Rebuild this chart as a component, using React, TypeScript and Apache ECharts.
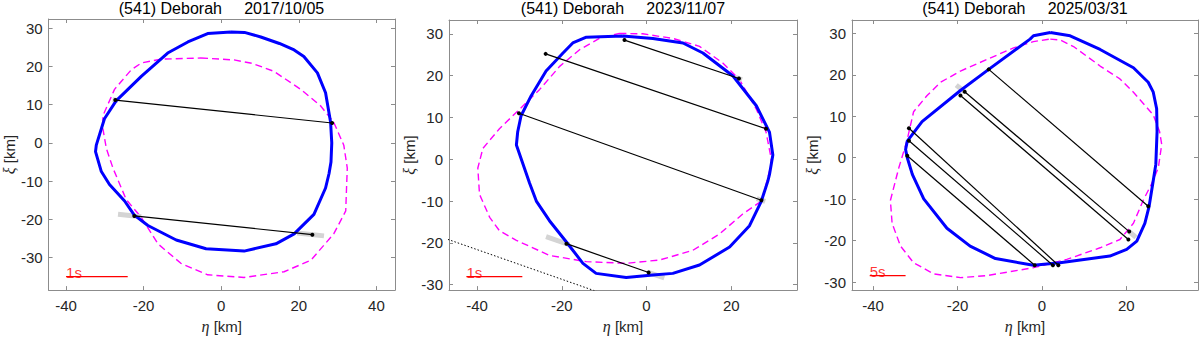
import React, { useEffect, useRef } from "react";
import * as echarts from "echarts";

// ---------- data ----------
const titles = ["(541) Deborah     2017/10/05", "(541) Deborah     2023/11/07", "(541) Deborah     2025/03/31"];
const xTicks = [[-40, -20, 0, 20, 40], [-40, -20, 0, 20], [-40, -20, 0, 20]];
const yTicks = [-30, -20, -10, 0, 10, 20, 30];
const xRanges = [[-44.5, 44.8], [-46.6, 35.5], [-45, 37]];
const yRanges = [[-38.5, 32.4], [-31.3, 33.3], [-31.9, 33.2]];

const blue1 = [[2.5,29.0],[6,28.9],[10.2,27.7],[15,26],[18.8,24.3],[21.3,22.6],[24.8,18.3],[26.9,13.1],[28.2,5.4],[28.5,0],[28.3,-5],[27.8,-8],[26.9,-11.8],[23.9,-18.7],[18.8,-23.8],[14.1,-26.4],[5.9,-28.3],[-3.9,-27.7],[-11.6,-25.4],[-18.9,-21.6],[-22.4,-18.9],[-24.9,-15.2],[-28.8,-10.9],[-30.9,-7.5],[-32.4,-2.3],[-32.2,-0.6],[-30.1,6.3],[-27.1,11.0],[-20.6,17.4],[-13.8,23.5],[-8.6,26.4],[-3.5,28.6],[2.5,29.0]];
const mag1 = [[-5.2,22.2],[3.3,21.7],[8,20.8],[13.6,18.7],[20.5,14.0],[25.6,9.7],[29.0,5.4],[31.6,-0.6],[32.5,-6.6],[32.3,-12],[32.1,-17.8],[29.0,-23.8],[23.1,-30.7],[16.2,-33.7],[5.9,-35.2],[-3.5,-34.5],[-10.4,-31.5],[-16.3,-26.4],[-20.6,-19.5],[-24.5,-14.8],[-27.9,-6.6],[-29.6,-1.5],[-30.5,3.7],[-30.5,7.1],[-27.5,14.0],[-23.2,19.1],[-20.6,20.9],[-15.5,21.9],[-5.2,22.2]];
const chords1 = [[-27.3,11.2,28.6,5.2],[-22.4,-19.1,23.5,-24.0]];
const gray1 = [[-28.0,11.3,-26.6,11.1],[-26.6,-18.65,-20.6,-19.3],[19.6,-23.58,26.5,-24.32]];
const bar1 = [-40, -24.1, -35];

const blue2 = [[-5.6,29.5],[1.5,28.9],[8.6,27.8],[13.3,25.4],[20.4,19.9],[25.9,12.8],[29.0,6.5],[29.8,1.0],[29.0,-3.7],[28.6,-5.3],[27.1,-10.0],[24.3,-15.9],[19.6,-21.0],[12.5,-25.3],[6.2,-27.3],[1.5,-27.7],[-4.8,-28.3],[-11.9,-27.3],[-15.0,-24.9],[-18.9,-19.8],[-22.9,-14.7],[-26,-10.0],[-27.6,-5.7],[-30.7,3.4],[-30.4,6.5],[-29.6,10.4],[-27.2,15.2],[-23.7,21.1],[-19.7,25.4],[-17.4,27.8],[-14.2,29.2],[-5.6,29.5]];
const mag2 = [[-6.4,30.1],[-0.9,30.0],[6.2,28.9],[12.5,27.0],[18.0,23.0],[21.9,19.1],[25.9,12.0],[28.2,6.5],[29.4,0.2],[29.4,-1.3],[27.8,-7.6],[27.1,-10.0],[22.7,-13.1],[17.2,-17.9],[10.9,-21.8],[3.1,-24.1],[-4.8,-24.9],[-14.2,-24.5],[-22.9,-23.0],[-30.7,-19.4],[-34.7,-17.1],[-37.0,-13.9],[-39.4,-8.4],[-39.8,-2.1],[-38.6,2.6],[-34.7,7.3],[-29.9,12.0],[-25.2,16.7],[-20.5,22.2],[-15.8,26.2],[-11.1,28.9],[-6.4,30.1]];
const chords2 = [[-5.2,28.5,21.8,19.3],[-23.8,25.2,28.2,7.3],[-30.1,11.0,27.1,-9.8],[-18.9,-20.2,0.5,-27.1]];
const gray2 = [[21.0,19.6,22.5,19.0],[26.0,-9.4,28.0,-10.1],[-23.7,-18.5,-18.2,-20.45],[0.2,-27.0,4.2,-28.4]];
const dotted2 = [[-50,-18.06],[-10,-32.26]];
const bar2 = [-42.5, -29.3, -28.1];

const blue3 = [[2.0,30.2],[6.7,29.4],[13.8,26.1],[21.7,21.7],[25.2,18.2],[26.4,15.8],[27.2,11.8],[27.3,6.3],[27.0,-1.6],[26.4,-5.5],[25.4,-11.8],[24.4,-15.8],[22.5,-20.1],[20.1,-22.1],[16.1,-23.7],[4.3,-25.3],[-2.0,-25.9],[-11.0,-24.3],[-17.0,-21.3],[-22.5,-17.0],[-28.0,-9.9],[-30.7,-4.0],[-31.9,0],[-32.3,2.0],[-31.9,4.0],[-28.4,8.7],[-19.3,16.2],[-12.6,21.3],[-2.8,28.6],[-2.0,29.4],[2.0,30.2]];
const mag3 = [[2.0,28.6],[4.3,28.4],[7.5,26.8],[13.8,22.1],[18.5,19.0],[21.7,15.8],[26.4,10.3],[27.9,6.3],[28.4,3.2],[27.6,-2.4],[26.0,-6.3],[24.0,-10.3],[21.7,-15.8],[18.5,-19.7],[13.8,-21.7],[5.9,-24.5],[-2.0,-26.5],[-13.0,-28.4],[-19.3,-28.9],[-25.6,-28.0],[-30.4,-25.3],[-33.5,-21.3],[-35.5,-15.8],[-35.9,-10.3],[-33.9,-2.4],[-32,4],[-30.4,11.1],[-27.2,15.0],[-24.0,18.2],[-19.3,20.9],[-13.0,23.7],[-6.7,26.5],[-2.0,28.0],[2.0,28.6]];
const chords3 = [[-12.6,21.3,25.2,-11.7],[-18.3,15.9,20.7,-17.8],[-19.3,15.0,20.5,-19.7],[-31.5,7.1,3.9,-25.9],[-31.5,4.1,2.6,-25.9],[-31.9,0.5,-1.7,-25.9]];
const gray3 = [[-20.3,17.5,-18.3,15.9],[20.5,-17.6,22.3,-19.2]];
const bar3 = [-40.8, -32.3, -28.4];

const scaleLabels = ["1s", "1s", "5s"];

// ---------- layout / style ----------
const grids = [
  { left: 48, top: 19, width: 347, height: 275 },
  { left: 449, top: 20, width: 348, height: 274 },
  { left: 852, top: 20, width: 346, height: 274 },
];
const FONT = "Liberation Sans";
const AXIS_COLOR = "#8c8c8c";
const TEXT_COLOR = "#262626";

const panels = [
  { blue: blue1, mag: mag1, chords: chords1, gray: gray1, bar: bar1, dotted: null as number[][] | null },
  { blue: blue2, mag: mag2, chords: chords2, gray: gray2, bar: bar2, dotted: dotted2 },
  { blue: blue3, mag: mag3, chords: chords3, gray: gray3, bar: bar3, dotted: null as number[][] | null },
];

function buildOption() {
  const xAxis: any[] = [];
  const yAxis: any[] = [];
  const series: any[] = [];
  const title: any[] = [];
  panels.forEach((p, i) => {
    const g = grids[i];
    title.push({
      text: titles[i],
      left: g.left + g.width / 2,
      top: 0,
      textAlign: "center",
      padding: 0,
      textStyle: { fontFamily: FONT, fontSize: 16, fontWeight: "normal", color: "#000" },
    });
    const common = (ticks: number[]) => ({
      type: "value",
      gridIndex: i,
      splitLine: { show: false },
      axisLine: { show: true, onZero: false, lineStyle: { color: AXIS_COLOR, width: 1 } },
      axisTick: { show: true, inside: true, length: 4, customValues: ticks, lineStyle: { color: AXIS_COLOR } },
    });
    xAxis.push({
      ...common(xTicks[i]),
      position: "bottom",
      min: xRanges[i][0],
      max: xRanges[i][1],
      axisLabel: { show: true, customValues: xTicks[i], fontFamily: FONT, fontSize: 15, color: TEXT_COLOR, margin: 8 },
      name: "{g|η} [km]",
      nameLocation: "middle",
      nameGap: 27,
      nameTextStyle: {
        fontFamily: FONT, fontSize: 15, color: TEXT_COLOR,
        rich: { g: { fontFamily: "Liberation Serif", fontStyle: "italic", fontSize: 16, color: TEXT_COLOR } },
      },
    });
    xAxis.push({
      ...common(xTicks[i]),
      position: "top",
      min: xRanges[i][0],
      max: xRanges[i][1],
      axisLabel: { show: false },
    });
    yAxis.push({
      ...common(yTicks),
      position: "left",
      min: yRanges[i][0],
      max: yRanges[i][1],
      axisLabel: { show: true, customValues: yTicks, fontFamily: FONT, fontSize: 15, color: TEXT_COLOR, margin: 6 },
      name: "{g|ξ} [km]",
      nameLocation: "middle",
      nameGap: 31,
      nameTextStyle: {
        fontFamily: FONT, fontSize: 15, color: TEXT_COLOR,
        rich: { g: { fontFamily: "Liberation Serif", fontStyle: "italic", fontSize: 16, color: TEXT_COLOR } },
      },
    });
    yAxis.push({
      ...common(yTicks),
      position: "right",
      min: yRanges[i][0],
      max: yRanges[i][1],
      axisLabel: { show: false },
    });
    const ax = { xAxisIndex: 2 * i, yAxisIndex: 2 * i };
    series.push({
      type: "line", ...ax, data: p.mag, symbol: "none", smooth: false, z: 2,
      lineStyle: { color: "#ff00ff", width: 1.4, type: [7, 4] },
    });
    p.gray.forEach((s) => {
      series.push({
        type: "line", ...ax, data: [[s[0], s[1]], [s[2], s[3]]], symbol: "none", z: 3,
        lineStyle: { color: "#d4d4d4", width: 5 },
      });
    });
    series.push({
      type: "line", ...ax, data: p.blue, symbol: "none", smooth: false, z: 4,
      lineStyle: { color: "#0000ff", width: 3 },
    });
    if (p.dotted) {
      series.push({
        type: "line", ...ax, data: p.dotted, symbol: "none", z: 4, clip: true,
        lineStyle: { color: "#000", width: 1, type: [1.5, 2] },
      });
    }
    p.chords.forEach((c) => {
      series.push({
        type: "line", ...ax, data: [[c[0], c[1]], [c[2], c[3]]], z: 5,
        symbol: "circle", symbolSize: 4, showSymbol: true,
        itemStyle: { color: "#000" },
        lineStyle: { color: "#000", width: 1.2 },
      });
    });
    const b = p.bar;
    series.push({
      type: "line", ...ax, data: [[b[0], b[2]], [b[1], b[2]]], symbol: "none", z: 6,
      lineStyle: { color: "#ff0000", width: 1.2 },
    });
    series.push({
      type: "scatter", ...ax, data: [[b[0], b[2]]], symbol: "circle", symbolSize: 0.1, z: 6,
      itemStyle: { color: "rgba(0,0,0,0)" },
      label: {
        show: true, formatter: scaleLabels[i], position: "top", distance: 0, align: "left",
        verticalAlign: "bottom", offset: [0, 3], lineHeight: 15,
        fontFamily: FONT, fontSize: 15, color: "#ff0000",
      },
    });
  });
  return {
    animation: false,
    backgroundColor: "#fff",
    title,
    grid: grids.map((g) => ({ ...g, containLabel: false })),
    xAxis,
    yAxis,
    series,
  };
}

export default function App() {
  const ref = useRef<HTMLDivElement>(null);
  useEffect(() => {
    if (!ref.current) return;
    const chart = echarts.init(ref.current, undefined, { renderer: "svg" });
    chart.setOption(buildOption() as any);
    return () => chart.dispose();
  }, []);
  return (
    <div
      ref={ref}
      style={{ position: "fixed", left: 0, top: 0, width: 1200, height: 339, background: "#fff" }}
    />
  );
}
